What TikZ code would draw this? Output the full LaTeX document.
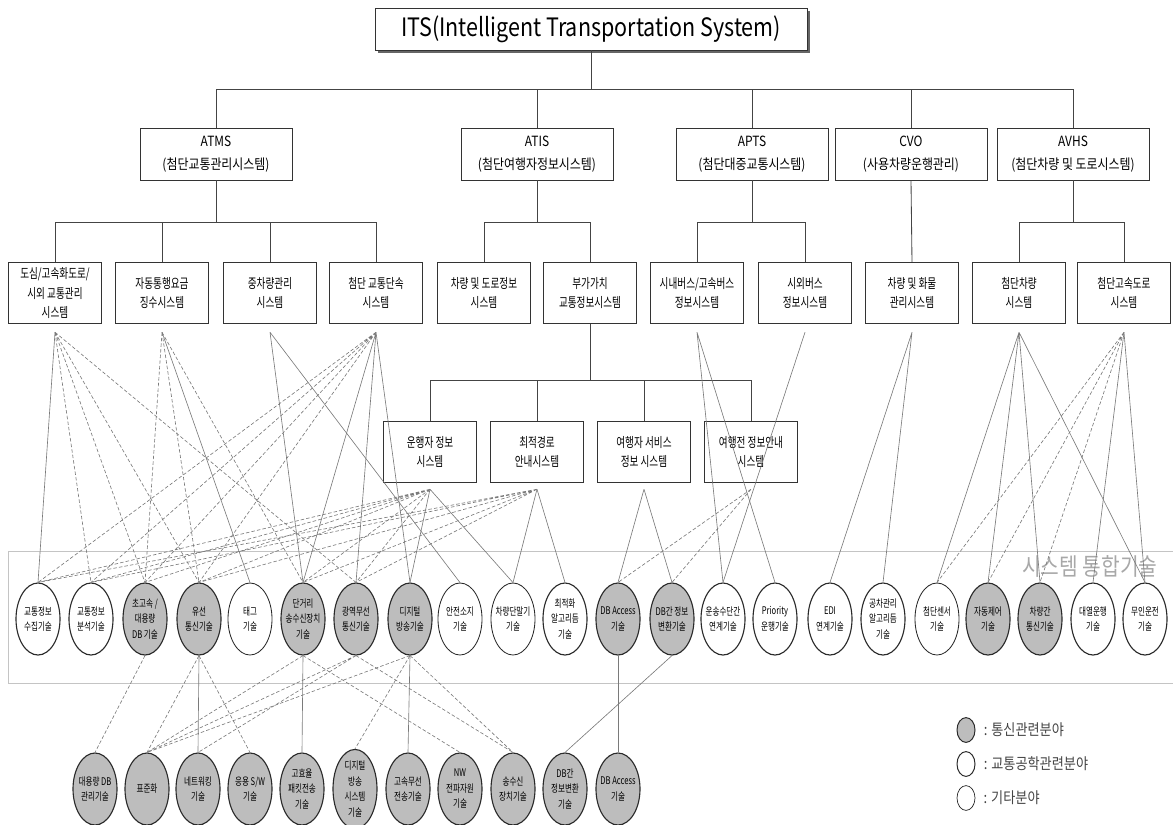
\documentclass[tikz,border=0pt]{standalone}
\usepackage{fontspec}
\newfontfamily\krn[FakeStretch=0.72]{Noto Sans CJK KR}
\newfontfamily\krw[FakeStretch=0.85]{Noto Sans CJK KR}
\usetikzlibrary{
  shapes.geometric,
  shadows,
  positioning
}
\definecolor{boxline}{HTML}{333333}
\definecolor{treeline}{HTML}{444444}
\definecolor{linkgray}{HTML}{7A7A7A}
\definecolor{ovalline}{HTML}{2A2A2A}
\definecolor{commgray}{HTML}{BDBDBD}
\definecolor{zonegray}{HTML}{C4C4C4}
\definecolor{zonetext}{HTML}{A8A8A8}
\definecolor{legendtext}{HTML}{444444}
\tikzset{
  title box/.style={draw=boxline, fill=white, line width=0.6pt,
    minimum width=10.8cm, minimum height=1.05cm,
    drop shadow={shadow xshift=0.08cm, shadow yshift=-0.08cm,
      fill=black!60, opacity=1},
    font=\krw\fontsize{18}{20}\selectfont
  },
  group box/.style={draw=boxline, line width=0.6pt,
    minimum width=3.8cm, minimum height=1.3cm, align=center,
    font=\krw\fontsize{10}{16}\selectfont
  },
  sys box/.style={draw=boxline, line width=0.6pt,
    minimum width=2.32cm, minimum height=1.54cm, align=center,
    font=\krn\fontsize{9.5}{14}\selectfont
  },
  tree line/.style={draw=treeline, line width=0.6pt},
  link/.style={draw=linkgray, line width=0.45pt},
  dash link/.style={link, dash pattern=on 2.5pt off 1.5pt},
  oval/.style={ellipse, draw=ovalline, line width=0.8pt, fill=white,
    minimum width=1.1cm, minimum height=1.8cm,
    inner xsep=-3pt, inner ysep=0pt, align=center,
    font=\krn\fontsize{7.5}{11}\selectfont
  },
  comm oval/.style={oval, fill=commgray},
  key oval/.style={ellipse, draw=ovalline, line width=0.7pt, fill=white,
    minimum width=0.45cm, minimum height=0.62cm, inner sep=0pt},
  key text/.style={text=legendtext, inner sep=0pt,
    font=\krw\fontsize{11}{13}\selectfont},
  zone/.style={draw=zonegray, line width=0.6pt}
}
\begin{document}
\begin{tikzpicture}[x=0.025cm, y=-0.025cm]
\useasboundingbox (0,0) rectangle (1173,824);
\draw[zone] (8,551) rectangle (1185,683);
\node[text=zonetext, font=\krw\fontsize{17}{19}\selectfont] (zonelabel)
  at (1090,566) {시스템 통합기술};

\node[title box] (its) at (591,29) {ITS(Intelligent Transportation System)};

\node[group box] (atms) at (216,154) {ATMS\\(첨단교통관리시스템)};
\node[group box] (atis) at (537,154) {ATIS\\(첨단여행자정보시스템)};
\node[group box] (apts) at (752,154) {APTS\\(첨단대중교통시스템)};
\node[group box] (cvo) at (911,154) {CVO\\(사용차량운행관리)};
\node[group box] (avhs) at (1073,154) {AVHS\\(첨단차량 및 도로시스템)};

\node[sys box] (city) at (55,293) {도심/고속화도로/\\시외 교통관리\\시스템};
\node[sys box] (toll) at (162,293) {자동통행요금\\징수시스템};
\node[sys box] (heavy) at (270,293) {중차량관리\\시스템};
\node[sys box] (enforce) at (376,293) {첨단 교통단속\\시스템};
\node[sys box] (roadinfo) at (484,293) {차량 및 도로정보\\시스템};
\node[sys box] (valueadd) at (590,293) {부가가치\\교통정보시스템};
\node[sys box] (citybus) at (697,293) {시내버스/고속버스\\정보시스템};
\node[sys box] (intercity) at (805,293) {시외버스\\정보시스템};
\node[sys box] (freight) at (912,293) {차량 및 화물\\관리시스템};
\node[sys box] (advveh) at (1019,293) {첨단차량\\시스템};
\node[sys box] (advhwy) at (1124,293) {첨단고속도로\\시스템};

\node[sys box] (driver) at (430,452) {운행자 정보\\시스템};
\node[sys box] (route) at (537,452) {최적경로\\안내시스템};
\node[sys box] (traveler) at (644,452) {여행자 서비스\\정보 시스템};
\node[sys box] (pretrip) at (751,452) {여행전 정보안내\\시스템};

\draw[tree line] (its.south) -- ++(0,39) -| (atms.north);
\draw[tree line] (its.south) -- ++(0,39) -| (atis.north);
\draw[tree line] (its.south) -- ++(0,39) -| (apts.north);
\draw[tree line] (its.south) -- ++(0,39) -| (cvo.north);
\draw[tree line] (its.south) -- ++(0,39) -| (avhs.north);
\draw[tree line] (atms.south) -- ++(0,42) -| (city.north);
\draw[tree line] (atms.south) -- ++(0,42) -| (toll.north);
\draw[tree line] (atms.south) -- ++(0,42) -| (heavy.north);
\draw[tree line] (atms.south) -- ++(0,42) -| (enforce.north);
\draw[tree line] (atis.south) -- ++(0,42) -| (roadinfo.north);
\draw[tree line] (atis.south) -- ++(0,42) -| (valueadd.north);
\draw[tree line] (apts.south) -- ++(0,42) -| (citybus.north);
\draw[tree line] (apts.south) -- ++(0,42) -| (intercity.north);
\draw[tree line] (cvo.south) -- (freight.north);
\draw[tree line] (avhs.south) -- ++(0,42) -| (advveh.north);
\draw[tree line] (avhs.south) -- ++(0,42) -| (advhwy.north);
\draw[tree line] (valueadd.south) -- ++(0,56) -| (driver.north);
\draw[tree line] (valueadd.south) -- ++(0,56) -| (route.north);
\draw[tree line] (valueadd.south) -- ++(0,56) -| (traveler.north);
\draw[tree line] (valueadd.south) -- ++(0,56) -| (pretrip.north);

\node[oval] (t1) at (38,619) {교통정보\\수집기술};
\node[oval] (t2) at (91,619) {교통정보\\분석기술};
\node[comm oval] (t3) at (145,619) {초고속 /\\대용량\\DB 기술};
\node[comm oval] (t4) at (199,619) {유선\\통신기술};
\node[oval, line width=0.6pt] (t5) at (250,619) {태그\\기술};
\node[comm oval] (t6) at (303,619) {단거리\\송수신장치\\기술};
\node[comm oval] (t7) at (356,619) {광역무선\\통신기술};
\node[comm oval] (t8) at (410,619) {디지털\\방송기술};
\node[oval, line width=0.6pt] (t9) at (460,619) {안전소지\\기술};
\node[oval, line width=0.6pt] (t10) at (513,619) {차량단말기\\기술};
\node[oval] (t11) at (565,619) {최적화\\알고리듬\\기술};
\node[comm oval] (t12) at (618,619) {DB Access\\기술};
\node[comm oval] (t13) at (672,619) {DB간 정보\\변환기술};
\node[oval] (t14) at (723,619) {운송수단간\\연계기술};
\node[oval] (t15) at (775,619) {Priority\\운행기술};
\node[oval] (t16) at (830,619) {EDI\\연계기술};
\node[oval] (t17) at (883,619) {공차관리\\알고리듬\\기술};
\node[oval, line width=0.6pt] (t18) at (937,619) {첨단센서\\기술};
\node[comm oval] (t19) at (988,619) {자동제어\\기술};
\node[comm oval] (t20) at (1040,619) {차량간\\통신기술};
\node[oval] (t21) at (1093,619) {대열운행\\기술};
\node[oval] (t22) at (1145,619) {무인운전\\기술};

\node[comm oval] (u1) at (95,789) {대용량 DB\\관리기술};
\node[comm oval] (u2) at (147,789) {표준화};
\node[comm oval] (u3) at (198,789) {네트워킹\\기술};
\node[comm oval] (u4) at (250,789) {응용 S/W\\기술};
\node[comm oval] (u5) at (302,789) {고효율\\패킷전송\\기술};
\node[comm oval] (u6) at (355,789) {디지털\\방송\\시스템\\기술};
\node[comm oval] (u7) at (408,789) {고속무선\\전송기술};
\node[comm oval] (u8) at (460,789) {NW\\전파자원\\기술};
\node[comm oval] (u9) at (513,789) {송수신\\장치기술};
\node[comm oval] (u10) at (565,789) {DB간\\정보변환\\기술};
\node[comm oval] (u11) at (618,789) {DB Access\\기술};

\coordinate (city-b) at ([yshift=-0.2cm]city.south);
\coordinate (toll-b) at ([yshift=-0.2cm]toll.south);
\coordinate (heavy-b) at ([yshift=-0.2cm]heavy.south);
\coordinate (enforce-b) at ([yshift=-0.2cm]enforce.south);
\coordinate (citybus-b) at ([yshift=-0.2cm]citybus.south);
\coordinate (intercity-b) at ([yshift=-0.2cm]intercity.south);
\coordinate (freight-b) at ([yshift=-0.2cm]freight.south);
\coordinate (advveh-b) at ([yshift=-0.2cm]advveh.south);
\coordinate (advhwy-b) at ([yshift=-0.2cm]advhwy.south);
\coordinate (driver-b) at ([yshift=-0.15cm]driver.south);
\coordinate (route-b) at ([yshift=-0.15cm]route.south);
\coordinate (traveler-b) at ([yshift=-0.15cm]traveler.south);
\coordinate (pretrip-b) at ([yshift=-0.15cm]pretrip.south);

\draw[link] (city-b) -- (t1.north);
\draw[dash link] (city-b) -- (t2.north) (city-b) -- (t3.north)
  (city-b) -- (t4.north) (city-b) -- (t7.north);
\draw[link] (toll-b) -- (t5.north);
\draw[dash link] (toll-b) -- (t3.north) (toll-b) -- (t4.north)
  (toll-b) -- (t6.north);
\draw[link] (heavy-b) -- (t6.north) (heavy-b) -- (t9.north);
\draw[link] (enforce-b) -- (t6.north) (enforce-b) -- (t7.north)
  (enforce-b) -- (t8.north);
\draw[dash link] (enforce-b) -- (t1.north) (enforce-b) -- (t2.north)
  (enforce-b) -- (t3.north) (enforce-b) -- (t4.north);
\draw[link] (driver-b) -- (t8.north) (driver-b) -- (t10.north);
\draw[dash link] (driver-b) -- (t1.north) (driver-b) -- (t2.north)
  (driver-b) -- (t3.north) (driver-b) -- (t4.north)
  (driver-b) -- (t6.north) (driver-b) -- (t7.north);
\draw[link] (route-b) -- (t10.north) (route-b) -- (t11.north);
\draw[dash link] (route-b) -- (t1.north) (route-b) -- (t2.north)
  (route-b) -- (t4.north) (route-b) -- (t6.north) (route-b) -- (t7.north);
\draw[link] (traveler-b) -- (t12.north) (traveler-b) -- (t13.north);
\draw[dash link] (pretrip-b) -- (t12.north) (pretrip-b) -- (t13.north);
\draw[link] (citybus-b) -- (t14.north) (citybus-b) -- (t15.north);
\draw[link] (intercity-b) -- (t14.north);
\draw[link] (freight-b) -- (t16.north) (freight-b) -- (t17.north);
\draw[link] (advveh-b) -- (t18.north) (advveh-b) -- (t19.north)
  (advveh-b) -- (t20.north) (advveh-b) -- (t22.north);
\draw[link] (advhwy-b) -- (t21.north) (advhwy-b) -- (t22.north);
\draw[dash link] (advhwy-b) -- (t18.north) (advhwy-b) -- (t19.north)
  (advhwy-b) -- (t20.north);

\draw[dash link] (t3.south) -- (u1.north);
\draw[link] (t4.south) -- (u3.north);
\draw[dash link] (t4.south) -- (u2.north) (t4.south) -- (u4.north);
\draw[link] (t6.south) -- (u5.north);
\draw[dash link] (t6.south) -- (u2.north) (t6.south) -- (u8.north);
\draw[dash link] (t7.south) -- (u2.north) (t7.south) -- (u3.north)
  (t7.south) -- (u9.north);
\draw[link] (t8.south) -- (u7.north);
\draw[dash link] (t8.south) -- (u2.north) (t8.south) -- (u6.north)
  (t8.south) -- (u9.north);
\draw[link] (t12.south) -- (u11.north);
\draw[link] (t13.south) -- (u10.north);

\node[key oval, fill=commgray] (key1) at (966,730) {};
\node[key oval] (key2) at (966,764) {};
\node[key oval, line width=0.5pt] (key3) at (966,798) {};
\node[key text, right=0.2cm of key1] (key1t) {: 통신관련분야};
\node[key text, right=0.2cm of key2] (key2t) {: 교통공학관련분야};
\node[key text, right=0.2cm of key3] (key3t) {: 기타분야};
\end{tikzpicture}
\end{document}
